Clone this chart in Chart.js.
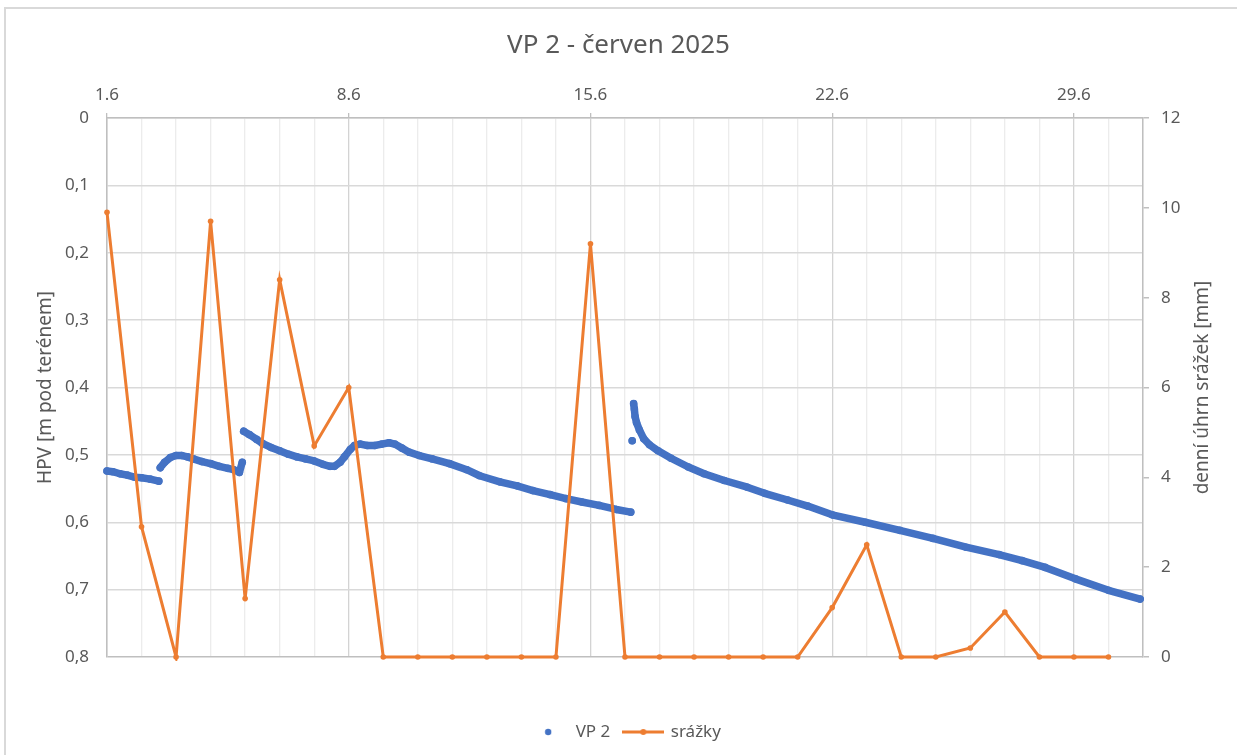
<!DOCTYPE html>
<html>
<head>
<meta charset="utf-8">
<script src="https://cdn.jsdelivr.net/npm/chart.js@4.4.1/dist/chart.umd.min.js"></script>
<style>
  html, body { margin: 0; padding: 0; background: #fff; overflow: hidden; }
  #wrap { position: relative; width: 1237px; height: 755px; }
  #frame { position: absolute; left: 4px; top: 7px; width: 1300px; height: 800px; border: 2px solid #d9d9d9; box-sizing: border-box; }
  canvas { position: absolute; left: 0; top: 0; }
</style>
</head>
<body>
<div id="wrap">
  <div id="frame"></div>
  <canvas id="c" width="1237" height="755"></canvas>
</div>
<script>
// ---- data ----
const chartTitle = 'VP 2 - červen 2025';
const leftAxisTitle = 'HPV [m pod terénem]';
const rightAxisTitle = 'denní úhrn srážek [mm]';
const xTickLabels = ['1.6', '8.6', '15.6', '22.6', '29.6'];

// daily precipitation (one value per day, 1.6 .. 30.6)
const precipDates = ['1.6','2.6','3.6','4.6','5.6','6.6','7.6','8.6','9.6','10.6','11.6','12.6','13.6','14.6','15.6',
                     '16.6','17.6','18.6','19.6','20.6','21.6','22.6','23.6','24.6','25.6','26.6','27.6','28.6','29.6','30.6'];
const precipMm = [9.9, 2.9, 0, 9.7, 1.3, 8.4, 4.7, 6.0, 0, 0, 0, 0, 0, 0, 9.2,
                  0, 0, 0, 0, 0, 0, 1.1, 2.5, 0, 0, 0.2, 1.0, 0, 0, 0];

// groundwater level VP 2: hours since 1.6 00:00, level [m below ground] (null = break)
const vpHours = [
  0, 4, 9, 14, 19, 24, 30, 36, 36.5,
  37, 40, 44, 48, 52, 56, 60, 66, 72, 78, 84, 88, 92, 94, 94.5,
  95, 99, 104, 108, 114, 120, 126, 132, 138, 144, 150, 155, 158, 162, 165, 169, 172, 176, 181, 186, 191, 196, 200,
  205, 210, 217, 226, 238, 250, 259, 273, 285, 296, 308, 319, 330, 342, 354, 364, 364.5,
  365, 365.5,
  366, 366.5, 367, 368, 370, 373, 377, 383, 392, 404, 415, 429, 445, 457, 473, 487, 504, 527, 551, 574, 597,
  620, 636, 652, 673, 696, 718
];
const vpLevel = [
  0.524, 0.525, 0.528, 0.530, 0.533, 0.534, 0.536, 0.539, null,
  0.519, 0.511, 0.504, 0.501, 0.501, 0.503, 0.506, 0.510, 0.513, 0.517, 0.520, 0.522, 0.526, 0.511, null,
  0.465, 0.470, 0.477, 0.483, 0.489, 0.494, 0.499, 0.503, 0.506, 0.509, 0.514, 0.517, 0.517, 0.511, 0.503, 0.492, 0.486, 0.484, 0.486, 0.486, 0.484, 0.482, 0.484,
  0.490, 0.496, 0.501, 0.506, 0.513, 0.522, 0.531, 0.540, 0.546, 0.553, 0.559, 0.565, 0.570, 0.575, 0.581, 0.585, null,
  0.479, null,
  0.424, 0.432, 0.443, 0.452, 0.463, 0.476, 0.485, 0.494, 0.505, 0.518, 0.528, 0.538, 0.548, 0.557, 0.567, 0.576, 0.589, 0.600, 0.612, 0.624, 0.637,
  0.648, 0.657, 0.667, 0.684, 0.701, 0.714
];

// ---- styling ----
const BLUE = '#4472c4';
const ORANGE = '#ed7d31';
const TEXT = '#595959';
const FONT = "'Noto Sans', 'Open Sans', sans-serif";

function legendDot() {
  const c = document.createElement('canvas');
  c.width = 8; c.height = 8;
  const g = c.getContext('2d');
  g.fillStyle = BLUE; g.beginPath(); g.arc(4, 4, 3.2, 0, Math.PI * 2); g.fill();
  return c;
}
function legendLine() {
  const c = document.createElement('canvas');
  c.width = 42; c.height = 8;
  const g = c.getContext('2d');
  g.strokeStyle = ORANGE; g.lineWidth = 3;
  g.beginPath(); g.moveTo(0, 4); g.lineTo(42, 4); g.stroke();
  g.fillStyle = ORANGE; g.beginPath(); g.arc(21, 4, 3, 0, Math.PI * 2); g.fill();
  return c;
}

const vpData = vpHours.map((h, i) => ({ x: h, y: vpLevel[i] }));
const precipData = precipMm.map((v, i) => ({ x: i * 24, y: v }));

const rightTitlePlugin = {
  id: 'rightTitle',
  afterDraw(chart) {
    const { ctx, chartArea } = chart;
    ctx.save();
    ctx.translate(1203, (chartArea.top + chartArea.bottom) / 2);
    ctx.rotate(-Math.PI / 2);
    ctx.fillStyle = TEXT;
    ctx.font = "19px " + FONT;
    ctx.textAlign = 'center';
    ctx.textBaseline = 'middle';
    ctx.fillText(rightAxisTitle, 0, 0);
    ctx.restore();
  }
};

new Chart(document.getElementById('c'), {
  type: 'line',
  data: {
    datasets: [
      {
        label: 'VP 2',
        data: vpData,
        yAxisID: 'y',
        xAxisID: 'x',
        borderColor: BLUE,
        backgroundColor: BLUE,
        borderWidth: 7.5,
        borderCapStyle: 'round',
        borderJoinStyle: 'round',
        pointRadius: 3.8,
        pointBorderWidth: 0,
        pointBackgroundColor: BLUE,
        spanGaps: false,
        tension: 0,
        clip: false,
        order: 1
      },
      {
        label: 'srážky',
        data: precipData,
        yAxisID: 'y2',
        xAxisID: 'x',
        borderColor: ORANGE,
        backgroundColor: ORANGE,
        borderWidth: 3,
        pointRadius: 2.8,
        pointBorderWidth: 0,
        pointBackgroundColor: ORANGE,
        tension: 0,
        clip: 4,
        order: 0
      }
    ]
  },
  options: {
    responsive: false,
    animation: false,
    events: [],
    layout: { padding: { left: 0, right: 0, top: 0, bottom: 4.5 } },
    font: { family: FONT },
    plugins: {
      title: {
        display: true,
        text: chartTitle,
        color: TEXT,
        font: { family: FONT, size: 26, weight: 'normal', lineHeight: 1.2 },
        padding: { top: 30, bottom: 23.4 }
      },
      legend: {
        display: true,
        position: 'bottom',
        fullSize: false,
        labels: {
          usePointStyle: true,
          pointStyleWidth: 38,
          padding: 14,
          color: TEXT,
          font: { family: FONT, size: 17 },
          generateLabels() {
            return [
              { text: 'VP 2', pointStyle: legendDot(), fillStyle: BLUE, strokeStyle: BLUE, lineWidth: 0, hidden: false, datasetIndex: 0, fontColor: TEXT },
              { text: 'srážky', pointStyle: legendLine(), fillStyle: ORANGE, strokeStyle: ORANGE, lineWidth: 0, hidden: false, datasetIndex: 1, fontColor: TEXT }
            ];
          }
        }
      },
      tooltip: { enabled: false }
    },
    scales: {
      x: {
        type: 'linear',
        position: 'top',
        min: 0,
        max: 720,
        afterFit(s) { s.height = 33.4; },
        ticks: {
          stepSize: 24,
          autoSkip: false,
          maxRotation: 0,
          padding: 8,
          color: TEXT,
          font: { family: FONT, size: 17 },
          callback(v) { return (v % 168 === 0) ? xTickLabels[v / 168] : ''; }
        },
        grid: {
          drawTicks: true,
          tickLength: 5,
          color: (c) => (c.tick && c.tick.value % 168 === 0) ? '#d3d3d3' : '#ececec',
          tickColor: (c) => (c.tick && c.tick.value % 168 === 0) ? '#bfbfbf' : 'rgba(0,0,0,0)',
          lineWidth: 1.3
        },
        border: { display: true, color: '#bfbfbf', width: 1.5 }
      },
      xb: {
        type: 'linear',
        position: 'bottom',
        display: true,
        afterFit(s) { s.height = 52.5; },
        ticks: { display: false },
        grid: { display: false, drawTicks: false },
        border: { display: false }
      },
      y: {
        type: 'linear',
        position: 'left',
        reverse: true,
        min: 0,
        max: 0.8,
        afterFit(s) { s.width = 107; },
        ticks: {
          stepSize: 0.1,
          padding: 18,
          color: TEXT,
          font: { family: FONT, size: 17 },
          callback(v) { return v === 0 ? '0' : v.toFixed(1).replace('.', ','); }
        },
        grid: {
          drawTicks: false,
          color: (c) => (c.tick && Math.abs(c.tick.value - 0.8) < 1e-6) ? '#bfbfbf' : '#d9d9d9',
          lineWidth: 1.5
        },
        border: { display: true, color: '#bfbfbf', width: 1.5 },
        title: {
          display: true,
          text: leftAxisTitle,
          color: TEXT,
          font: { family: FONT, size: 19, lineHeight: 1.2 },
          padding: { top: 34.6, bottom: 0 }
        }
      },
      y2: {
        type: 'linear',
        position: 'right',
        min: 0,
        max: 12,
        afterFit(s) { s.width = 94; },
        ticks: {
          stepSize: 2,
          padding: 12,
          color: TEXT,
          font: { family: FONT, size: 17 }
        },
        grid: {
          drawOnChartArea: false,
          drawTicks: true,
          tickLength: 6,
          tickColor: '#bfbfbf',
          lineWidth: 1.5
        },
        border: { display: true, color: '#bfbfbf', width: 1.5 }
      }
    }
  },
  plugins: [rightTitlePlugin]
});
</script>
</body>
</html>
